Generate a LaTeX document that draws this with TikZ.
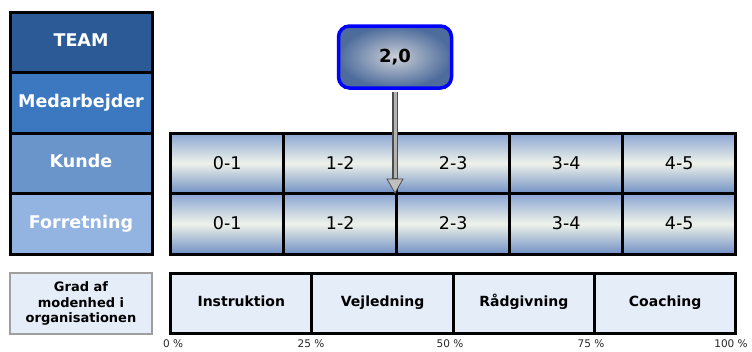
\documentclass[tikz,border=0pt]{standalone}
\usepackage{fontspec}
\setmainfont{DejaVu Sans}
\definecolor{cTeam}{HTML}{2B5A96}
\definecolor{cMed}{HTML}{3C78C0}
\definecolor{cKunde}{HTML}{6A95CB}
\definecolor{cForr}{HTML}{93B4E0}
\definecolor{cTop}{HTML}{8AA5D2}
\definecolor{cMid}{HTML}{EEF2EA}
\definecolor{cBot}{HTML}{7090C4}
\definecolor{cLight}{HTML}{E5EDF9}
\definecolor{cValIn}{HTML}{CBCFD6}
\definecolor{cValOut}{HTML}{4D6C9C}
\begin{document}
\begin{tikzpicture}[x=1pt,y=-1pt,
  hdr/.style={draw=black, line width=3, minimum width=142, minimum height=60.5, inner sep=0pt,
    text height=12.5pt, text depth=3.5pt,
    text=white, font=\fontsize{17.5}{20}\selectfont\bfseries},
  cell/.style={draw=black, line width=3, minimum width=113, minimum height=60.5, inner sep=0pt,
    text height=12pt, text depth=0pt,
    top color=cTop, bottom color=cBot, middle color=cMid, font=\fontsize{17.5}{20}\selectfont},
  gradbox/.style={draw=gray!75, line width=2, fill=cLight, minimum width=142, minimum height=61,
    inner sep=0pt, align=center, font=\fontsize{13}{15.5}\selectfont\bfseries},
  phase/.style={draw=black, line width=3, fill=cLight, minimum width=141.25, minimum height=60,
    inner sep=0pt, text height=10.5pt, text depth=3pt, font=\fontsize{14}{16}\selectfont\bfseries},
  pct/.style={anchor=north, inner sep=0pt, font=\fontsize{10.5}{12}\selectfont, text=black!85},
  valbox/.style={draw=blue, line width=3.5, rounded corners=11, minimum width=113, minimum height=62,
    inner color=cValIn, outer color=cValOut, font=\fontsize{18}{21}\selectfont\bfseries},
  shaftout/.style={line width=5.5, draw=black!70},
  shaftin/.style={line width=3, draw=gray!60},
  tiphead/.style={fill=gray!50, draw=black!70, line width=0.8, line join=miter}
]
\useasboundingbox (0,0) rectangle (752,351);
\fill[white] (0,0) rectangle (752,351);

% left header column
\node[hdr, fill=cTeam]  (team)  at (81,42.25)  {TEAM};
\node[hdr, fill=cMed]   (med)   at (81,102.75) {Medarbejder};
\node[hdr, fill=cKunde] (kunde) at (81,163.25) {Kunde};
\node[hdr, fill=cForr]  (forr)  at (81,223.75) {Forretning};

% grid cells
\foreach \lab [count=\i] in {0-1,1-2,2-3,3-4,4-5}{
  \node[cell] (a\i) at ({170.7+113*(\i-0.5)},163.25) {\lab};
  \node[cell] (b\i) at ({170.7+113*(\i-0.5)},223.75) {\lab};
}

% bottom row
\node[gradbox] (grad) at (81,303.5) {Grad af\\modenhed i\\organisationen};
\node[phase] (p1) at (241.3,303) {Instruktion};
\node[phase] (p2) at (382.6,303) {Vejledning};
\node[phase] (p3) at (523.8,303) {Rådgivning};
\node[phase] (p4) at (665.1,303) {Coaching};

\node[pct] (q0) at (173,339.5) {0 \%};
\node[pct] (q1) at (311,339.5) {25 \%};
\node[pct] (q2) at (450,339.5) {50 \%};
\node[pct] (q3) at (591,339.5) {75 \%};
\node[pct] (q4) at (731,339.5) {100 \%};

% value box and arrow
\node[valbox] (val) at (395,57) {2,0};
\coordinate (tipbase) at (395,179);
\coordinate (tip) at (395,193);
\draw[shaftout, shorten <=1.8] (val.south) -- (tipbase);
\draw[shaftin, shorten <=1.8, shorten >=0.8] (val.south) -- (tipbase);
\filldraw[tiphead] (tipbase) ++(-8,0) -- ++(16,0) -- (tip) -- cycle;
\end{tikzpicture}
\end{document}
